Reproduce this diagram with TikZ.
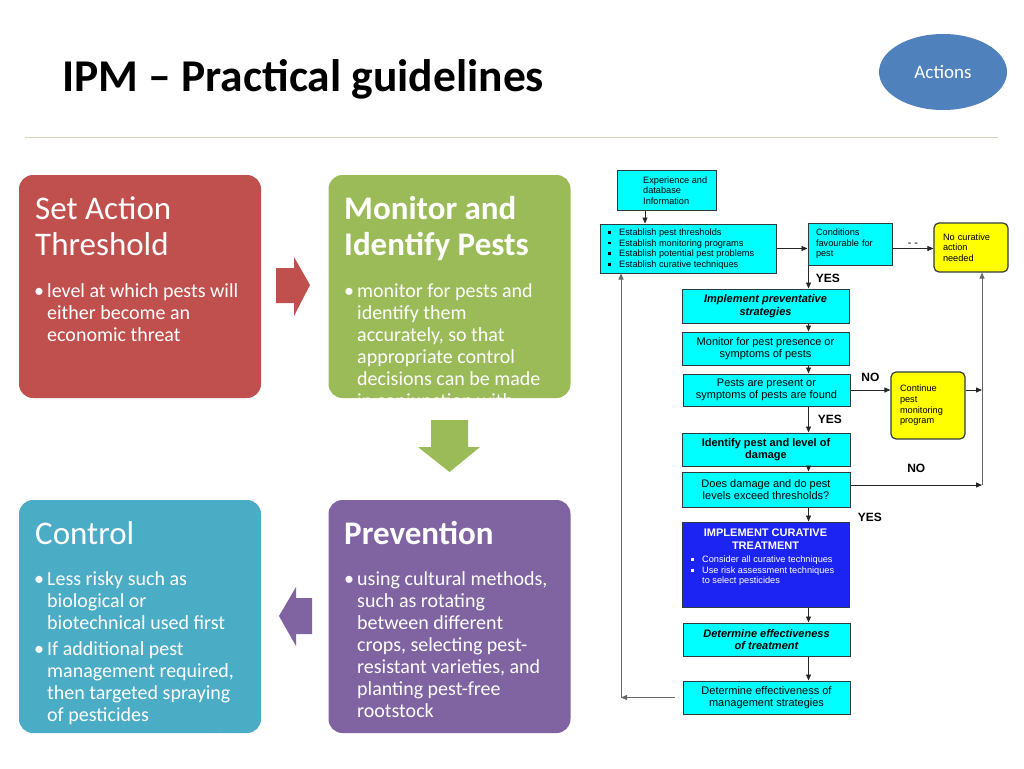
\documentclass[tikz,border=0pt]{standalone}
\usepackage{fontspec}
\setmainfont{Carlito}
\newfontfamily\arialfont{Liberation Sans}
\usetikzlibrary{positioning,shapes.geometric,arrows.meta}

\definecolor{redbox}{RGB}{192,80,77}
\definecolor{greenbox}{RGB}{155,187,89}
\definecolor{tealbox}{RGB}{75,172,198}
\definecolor{purplebox}{RGB}{128,100,162}
\definecolor{actblue}{RGB}{79,129,189}
\definecolor{rulecol}{RGB}{214,210,186}
\definecolor{flowcyan}{RGB}{0,255,255}
\definecolor{flowyellow}{RGB}{255,255,0}
\definecolor{flowblue}{RGB}{28,36,244}
\definecolor{flowedge}{RGB}{45,60,60}

\newcommand{\sqbit}{\makebox[11pt][l]{\rule[1.6pt]{2.6pt}{2.6pt}}}

\tikzset{
  bigbox/.style={rounded corners=14pt, minimum width=242pt, minimum height=223pt, inner sep=0pt},
  boxtitle/.style={anchor=base west, inner sep=0pt, align=left, text=white, font=\fontsize{33}{36}\selectfont},
  boxtext/.style={anchor=base west, inner sep=0pt, align=left, text=white, font=\fontsize{20}{22}\selectfont},
  flowbox/.style={draw=flowedge, line width=1pt, fill=flowcyan, inner sep=0pt, align=center,
    font=\arialfont\fontsize{11}{12.5}\selectfont},
  yellowbox/.style={draw=flowedge, line width=1.2pt, fill=flowyellow, rounded corners=5pt, inner sep=0pt,
    align=left, font=\arialfont\fontsize{9.2}{10.6}\selectfont},
  flowtxt/.style={inner sep=0pt, align=left, font=\arialfont\fontsize{9.2}{10.6}\selectfont},
  yesno/.style={inner sep=0pt, font=\arialfont\bfseries\fontsize{12}{12}\selectfont},
  flowarrow/.style={draw=black!85, line width=0.8pt, -{Triangle[length=6pt,width=5pt]}},
  backline/.style={draw=black!60, line width=0.8pt, -{Triangle[length=6pt,width=5pt]}},
}

\begin{document}
\begin{tikzpicture}[x=1pt,y=-1pt]
  \useasboundingbox[fill=white] (0,0) rectangle (1024,768);

  % heading
  \node[anchor=base west, inner sep=0pt, font=\bfseries\fontsize{45.5}{50}\selectfont] (ttl)
    at (62,91) {IPM – Practical guidelines};
  \node[ellipse, fill=actblue, minimum width=128pt, minimum height=76pt, text=white,
    font=\fontsize{19}{20}\selectfont] (act) at (943,72) {Actions};
  \draw[rulecol, line width=1pt] (25,137) -- (998,137);

  % the four steps (base anchor = last line)
  \node[bigbox, fill=redbox] (thr) at (140,286.5) {};
  \node[bigbox, fill=greenbox] (mon) at (449.5,286.5) {};
  \node[bigbox, fill=tealbox, minimum height=233pt] (ctl) at (140,616.5) {};
  \node[bigbox, fill=purplebox, minimum height=233pt] (prv) at (449.5,616.5) {};

  \node[boxtitle] (thrT) at (35,255) {Set Action\\Threshold};
  \node[boxtext] (thrD) at (34,297) {•};
  \node[boxtext] (thrB) at (47,341) {level at which pests will\\either become an\\economic threat};

  \node[boxtitle, font=\bfseries\fontsize{33}{36}\selectfont] (monT) at (344,255) {Monitor and\\Identify Pests};
  \begin{scope}
    \clip[rounded corners=14pt] (mon.south west) rectangle (mon.north east);
    \node[boxtext] (monD) at (344,297) {•};
    \node[boxtext] (monB) at (357,407) {monitor for pests and\\identify them\\accurately, so that\\appropriate control\\decisions can be made\\in conjunction with};
  \end{scope}

  \node[boxtitle] (ctlT) at (35,544) {Control};
  \begin{scope}
    \clip[rounded corners=14pt] (ctl.south west) rectangle (ctl.north east);
    \node[boxtext] (ctlD1) at (34,585) {•};
    \node[boxtext] (ctlD2) at (34,655) {•};
    \node[boxtext] (ctlD3) at (34,747) {•};
    \node[boxtext] (ctlB) at (47,747) {Less risky such as\\biological or\\biotechnical used first\\[4pt]If additional pest\\management required,\\then targeted spraying\\of pesticides\\[4pt]Broadcast spraying of non-specific};
  \end{scope}

  \node[boxtitle, font=\bfseries\fontsize{33}{36}\selectfont] (prvT) at (344,544) {Prevention};
  \node[boxtext] (prvD) at (344,585) {•};
  \node[boxtext] (prvB) at (357,717) {using cultural methods,\\such as rotating\\between different\\crops, selecting pest-\\resistant varieties, and\\planting pest-free\\rootstock};

  % block arrows
  \fill[redbox] (276,268) -- (294,268) -- (294,257) -- (310,285) -- (294,316) -- (294,303) -- (276,303) -- cycle;
  \fill[greenbox] (431,420) -- (468,420) -- (468,447) -- (480,447) -- (449.5,472) -- (418,447) -- (431,447) -- cycle;
  \fill[purplebox] (312,598) -- (296,598) -- (296,587) -- (279,616) -- (296,646) -- (296,634) -- (312,634) -- cycle;

  % flow chart
  \node[flowbox, minimum width=99pt, minimum height=40pt] (exp) at (666.5,190) {};
  \node[flowtxt, anchor=west] (expT) at (643,190.5) {Experience and\\database\\Information};
  \node[flowbox, minimum width=176pt, minimum height=49pt] (est) at (688,248.5) {};
  \node[flowtxt, anchor=west] (estT) at (608,249) {\sqbit Establish pest thresholds\\\sqbit Establish monitoring programs\\\sqbit Establish potential pest problems\\\sqbit Establish curative techniques};
  \node[flowbox, minimum width=84pt, minimum height=42pt, text width=68pt, align=left,
    font=\arialfont\fontsize{9.2}{10.6}\selectfont] (cond) at (850,244) {Conditions\\favourable for\\pest};
  \node[yellowbox, minimum width=74pt, minimum height=49pt, text width=56pt] (nocur) at (971,247.5) {No curative\\action\\needed};
  \node[flowbox, minimum width=167pt, minimum height=34pt, font=\arialfont\bfseries\itshape\fontsize{11}{12.5}\selectfont]
    (prev) at (765.5,306) {Implement preventative\\strategies};
  \node[flowbox, minimum width=167pt, minimum height=33pt] (watch) at (765.5,348.5) {Monitor for pest presence or\\symptoms of pests};
  \node[flowbox, minimum width=167pt, minimum height=32pt] (pres) at (766.5,390) {Pests are present or\\symptoms of pests are found};
  \node[yellowbox, minimum width=74pt, minimum height=67pt, text width=56pt] (cont) at (928,405.5) {Continue\\pest\\monitoring\\program};
  \node[flowbox, minimum width=168pt, minimum height=33pt, font=\arialfont\bfseries\fontsize{11}{12.5}\selectfont]
    (ident) at (766,449.5) {Identify pest and level of\\damage};
  \node[flowbox, minimum width=168pt, minimum height=35pt] (exceed) at (766,489.5) {Does damage and do pest\\levels exceed thresholds?};
  \node[flowbox, fill=flowblue, minimum width=167pt, minimum height=85pt] (cure) at (765.5,564.5) {};
  \node[inner sep=0pt, align=center, text=white, font=\arialfont\bfseries\fontsize{11}{13}\selectfont, anchor=base]
    (cureT) at (765.5,549) {IMPLEMENT CURATIVE\\TREATMENT};
  \node[flowtxt, text=white, anchor=base west] (cureB) at (691,583.7) {\sqbit Consider all curative techniques\\\sqbit Use risk assessment techniques\\\hspace*{11pt}to select pesticides};
  \node[flowbox, minimum width=167pt, minimum height=33pt, font=\arialfont\bfseries\itshape\fontsize{11}{12.5}\selectfont]
    (efftr) at (766.5,639.5) {Determine effectiveness\\of treatment};
  \node[flowbox, minimum width=167pt, minimum height=33pt] (effmg) at (766.5,697.5) {Determine effectiveness of\\management strategies};

  \coordinate (colv) at (808.5,0);
  \coordinate (lline) at (621,0);
  \coordinate (rline) at (982,0);
  \coordinate (rtee) at ([yshift=4.5pt]exceed.east -| rline);
  \coordinate (lcorner) at (effmg.west -| lline);

  \draw[flowarrow] ([xshift=-21.5pt]exp.south) -- ([xshift=-21.5pt]exp.south |- est.north);
  \draw[flowarrow] (est.east) -- (est.east -| cond.west);
  \draw[flowarrow] (cond.east |- est.east) -- (est.east -| nocur.west)
    node[yesno, midway, above=2pt, font=\arialfont\fontsize{11}{11}\selectfont] {- -};
  \draw[flowarrow] (cond.south -| colv) -- (prev.north -| colv) node[yesno, pos=0.55, right=7pt] {YES};
  \draw[flowarrow] (prev.south -| colv) -- (watch.north -| colv);
  \draw[flowarrow] (watch.south -| colv) -- (pres.north -| colv);
  \draw[flowarrow] (pres.east) -- (pres.east -| cont.west) node[yesno, midway, above=8pt] {NO};
  \draw[flowarrow] (pres.south -| colv) -- (ident.north -| colv) node[yesno, midway, right=9pt] {YES};
  \draw[flowarrow] (ident.south -| colv) -- (exceed.north -| colv);
  \draw[flowarrow] ([yshift=4.5pt]exceed.east) -- (rtee) node[yesno, midway, above=12pt] {NO};
  \draw[flowarrow] (exceed.south -| colv) -- (cure.north -| colv) node[yesno, pos=0.73, right=49pt] {YES};
  \draw[flowarrow] (cure.south -| colv) -- (efftr.north -| colv);
  \draw[flowarrow] (efftr.south -| colv) -- (effmg.north -| colv);
  \draw[flowarrow] (cont.east |- pres.east) -- (pres.east -| rline);
  \draw[backline] (rtee) -- (rline |- nocur.south);
  \draw[backline] ([xshift=-8pt]effmg.west) -- (lcorner);
  \draw[backline] (lcorner) -- (lline |- est.south);
\end{tikzpicture}
\end{document}
